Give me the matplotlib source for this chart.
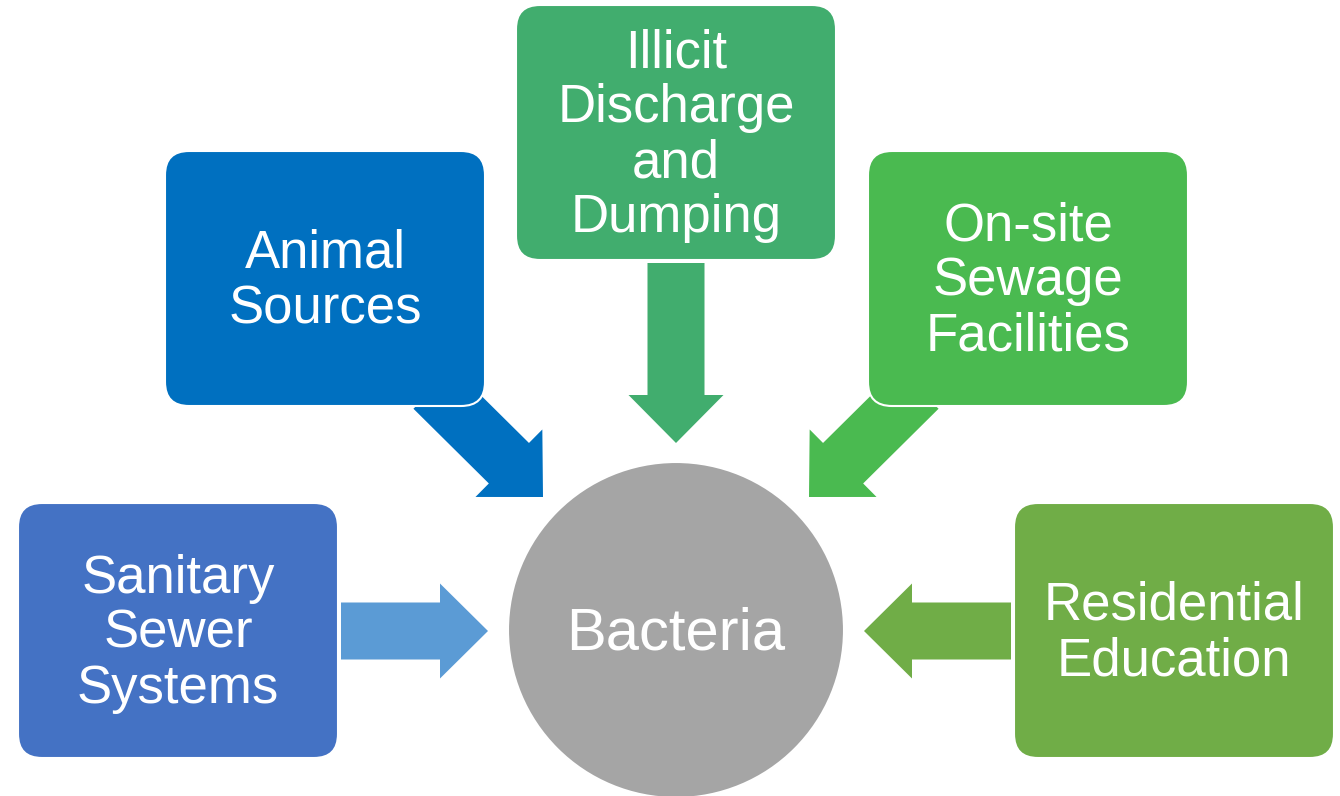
import matplotlib
matplotlib.use("Agg")
import matplotlib.pyplot as plt
from matplotlib.patches import FancyBboxPatch, Circle, Polygon
import numpy as np

plt.rcParams['font.family'] = ['Liberation Sans', 'DejaVu Sans']

# Source boxes: labels, colours
labels = ["Sanitary\nSewer\nSystems", "Animal\nSources", "Illicit\nDischarge\nand\nDumping",
          "On-site\nSewage\nFacilities", "Residential\nEducation"]
box_colors = ["#4472C4", "#0070C0", "#41AD6E", "#4ABA50", "#70AD47"]
arrow_colors = ["#5B9BD5", "#0070C0", "#41AD6E", "#4ABA50", "#70AD47"]
center_label = "Bacteria"
center_color = "#A5A5A5"

# layout (pixel space)
box_xy = [(18, 503), (165, 151), (516, 5), (868, 151), (1014, 503)]
box_w, box_h = 320, 255
# arrows: tail centre, tip
arrow_tail = [(341, 631), (433.5, 388.5), (676, 263), (918.5, 388.5), (1011, 631)]
arrow_tip = [(488, 631), (543, 497), (676, 443), (809, 497), (864, 631)]
circle_c = (676, 630)
circle_r = 168

W, H = 1340, 796
fig = plt.figure(figsize=(W / 100, H / 100), dpi=100)
ax = fig.add_axes([0, 0, 1, 1])
ax.set_xlim(0, W)
ax.set_ylim(H, 0)
ax.axis('off')

body_w, head_w, head_l = 57, 95, 48


def arrow_poly(tail, tip):
    t = np.array(tail, float)
    p = np.array(tip, float)
    d = p - t
    L = np.linalg.norm(d)
    u = d / L
    n = np.array([-u[1], u[0]])
    hb = p - u * head_l
    pts = [t + n * body_w / 2, hb + n * body_w / 2, hb + n * head_w / 2, p,
           hb - n * head_w / 2, hb - n * body_w / 2, t - n * body_w / 2]
    return np.array(pts)


for tail, tip, c in zip(arrow_tail, arrow_tip, arrow_colors):
    ax.add_patch(Polygon(arrow_poly(tail, tip), closed=True, facecolor=c,
                         edgecolor='none', zorder=1))

line_gap = 55
for (x, y), lab, c in zip(box_xy, labels, box_colors):
    ax.add_patch(FancyBboxPatch((x, y), box_w, box_h,
                                boxstyle="round,pad=0,rounding_size=24",
                                facecolor=c, edgecolor='white', linewidth=1.5, zorder=2))
    lines = lab.split("\n")
    n = len(lines)
    cx, cy = x + box_w / 2, y + box_h / 2
    for i, ln in enumerate(lines):
        by = cy + 17 + (i - (n - 1) / 2) * line_gap
        ax.text(cx, by, ln, ha='center', va='baseline', color='white',
                fontsize=38, zorder=3)

ax.add_patch(Circle(circle_c, circle_r, facecolor=center_color, edgecolor='white',
                    linewidth=1.5, zorder=2))
ax.text(circle_c[0], circle_c[1] + 20, center_label, ha='center', va='baseline',
        color='white', fontsize=43, zorder=3)

fig.savefig("out.png", dpi=100, facecolor='white')
